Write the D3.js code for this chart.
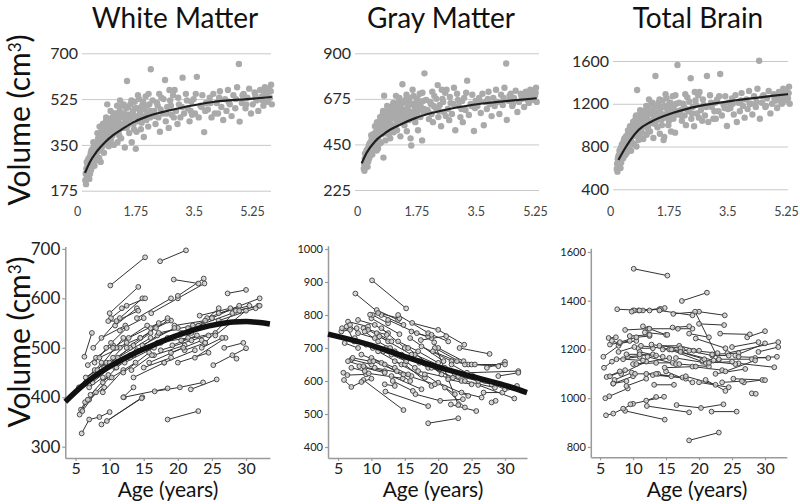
<!DOCTYPE html>
<html><head><meta charset="utf-8">
<script src="https://cdn.jsdelivr.net/npm/d3@7"></script>
<style>
body{margin:0;background:#fff}
svg{display:block}
text{font-family:Lato,'Noto Sans',sans-serif}
</style></head>
<body><svg id="chart" width="800" height="504"></svg>
<script>
// ---------- DATA ----------
const panelTitles = ["White Matter", "Gray Matter", "Total Brain"];

// cross-sectional (top row): age in years
const scanAge = [
0.20,0.21,0.22,0.23,0.25,0.26,0.27,0.28,0.30,0.31,0.32,0.34,0.35,0.36,0.38,0.40,0.41,0.43,0.44,0.46,0.47,0.48,0.50,0.50,0.45,0.33,
0.52,0.54,0.55,0.57,0.58,0.60,0.61,0.63,0.64,0.66,0.67,0.69,0.70,0.72,0.73,0.75,0.76,0.78,0.79,0.80,0.82,0.84,0.85,0.87,0.88,0.90,0.91,0.93,0.94,0.96,0.97,0.98,1.00,0.62,0.71,
1.02,1.04,1.06,1.08,1.10,1.12,1.14,1.16,1.18,1.20,1.22,1.24,1.26,1.28,1.30,1.32,1.34,1.36,1.38,1.40,1.43,1.45,1.47,1.50,1.52,1.55,1.57,1.60,1.62,1.65,1.67,1.70,1.72,1.75,1.77,1.80,1.82,1.85,1.87,1.90,1.92,1.95,1.97,1.99,1.15,1.58,
2.08,2.12,2.16,2.20,2.24,2.28,2.32,2.38,2.40,2.44,2.48,2.52,2.56,2.60,2.64,2.68,2.72,2.76,2.80,2.86,2.90,2.95,3.00,3.05,3.10,3.16,3.20,3.25,3.30,3.35,3.40,3.45,3.48,3.50,2.50,3.12,2.22,
3.55,3.60,3.65,3.70,3.74,3.79,3.83,3.88,3.92,3.97,4.02,4.06,4.10,4.15,4.20,4.25,4.30,4.35,4.40,4.42,4.48,4.53,4.58,4.63,4.68,4.73,4.78,4.83,4.88,4.93,4.98,5.03,5.07,5.11,5.15,5.19,5.22,5.25,5.28,5.30,5.10,4.95,5.20,4.50,5.27,
0.24,0.29,0.37,0.39,0.42,0.49,0.53,0.56,0.59,0.65,0.68,0.74,0.77,0.81,0.86,0.89,0.92,0.95,0.99,1.03,1.07,1.11,1.13,1.17,1.21,1.25,1.29,1.33,1.37,1.41,1.46,1.49,1.53,
1.56,1.61,1.64,1.69,1.74,1.78,1.83,1.88,1.93,1.98,2.04,2.10,2.18,2.26,2.34,2.42,2.54,2.62,2.74,2.84,2.98,3.08,3.22,3.38,3.62,3.86,4.12,4.32,4.60,4.85,5.05,5.17
];
const whiteVol = [
215,240,200,260,230,275,250,295,265,220,305,280,320,255,300,335,285,315,345,300,330,355,310,340,270,240,
360,325,375,345,300,390,355,330,400,370,345,410,380,420,355,395,440,370,410,505,385,345,425,395,450,370,415,440,385,460,405,350,430,285,320,
395,470,420,360,445,405,480,430,375,455,500,415,470,340,440,490,594,425,465,395,505,450,360,480,430,515,460,400,490,440,525,470,410,500,455,380,485,535,445,470,420,505,455,639,520,335,
480,430,510,455,400,530,470,598,440,495,415,520,465,540,560,480,430,505,455,607,470,545,490,440,515,525,470,610,455,500,540,399,480,510,560,465,545,
485,530,455,545,470,510,470,555,495,445,525,480,560,505,460,540,490,570,659,439,510,545,490,530,565,470,505,550,520,480,560,535,500,570,545,515,560,530,580,505,550,525,565,540,555,
285,230,330,270,360,290,395,350,420,385,430,405,455,420,365,480,400,430,470,440,500,455,385,470,425,505,455,415,495,440,520,470,410,
490,455,540,480,435,515,460,500,545,480,520,460,500,485,525,470,500,455,530,495,520,480,545,495,510,530,515,525,505,540,520,545
];
const grayVol = [
330,355,320,380,345,400,370,420,390,340,430,410,445,380,440,460,420,470,480,430,465,500,455,490,400,365,
470,440,510,490,420,530,500,470,545,510,455,560,525,580,500,540,600,385,565,691,530,470,580,550,610,520,570,595,500,625,555,480,585,430,460,
545,620,580,510,600,530,640,570,520,610,660,560,625,490,590,650,747,575,620,545,670,600,515,640,580,680,605,445,650,590,690,615,560,660,600,520,640,700,585,630,470,665,605,801,690,480,
620,575,660,600,560,690,630,743,585,645,540,675,610,705,720,625,570,655,600,730,520,700,640,585,665,680,620,765,595,650,695,516,630,665,720,560,710,
640,680,605,700,545,660,625,710,650,590,680,640,720,660,600,695,645,730,850,571,665,700,640,680,715,610,660,700,675,635,710,690,655,720,700,670,710,690,730,660,700,680,715,690,705,
405,350,455,395,495,430,540,480,560,530,585,520,615,560,505,640,545,600,635,600,655,620,540,645,590,680,615,575,660,615,695,625,570,
655,610,720,640,585,675,620,655,705,625,670,610,650,640,675,615,660,590,685,650,670,625,705,640,665,675,660,680,650,690,665,695
];
const totalVol = [
590,640,565,680,620,720,660,760,700,600,790,740,820,690,800,850,760,840,880,790,850,900,810,870,720,650,
880,820,930,880,770,960,900,850,990,920,830,1010,950,1040,900,980,1080,800,1020,1329,960,860,1050,990,1100,930,1030,1080,930,1120,1000,870,1060,760,820,
990,1140,1040,910,1090,980,1160,1040,940,1110,1200,1020,1130,880,1070,1180,1460,1040,1120,980,1210,1090,920,1160,1050,1230,1100,890,1180,1070,1250,1120,1000,1200,1090,940,1160,1270,1060,1130,930,1200,1100,1563,1240,860,
1140,1040,1200,1090,1000,1260,1130,1438,1060,1170,990,1230,1110,1280,1310,1140,1040,1190,1090,1460,1030,1280,1170,1060,1210,1240,1130,1478,1090,1190,1270,992,1150,1210,1310,1060,1290,
1160,1250,1100,1280,1030,1210,1130,1300,1180,1070,1240,1150,1320,1200,1100,1270,1170,1340,1603,1060,1210,1280,1170,1250,1320,1110,1200,1290,1230,1160,1310,1260,1200,1340,1290,1230,1310,1250,1360,1200,1290,1240,1320,1270,1300,
700,600,800,690,870,740,950,850,990,930,1030,940,1090,1000,890,1140,960,1050,1120,1060,1180,1100,950,1130,1040,1210,1090,1010,1180,1080,1240,1110,1000,
1170,1080,1290,1150,1040,1210,1100,1180,1280,1130,1210,1090,1170,1150,1220,1110,1190,1070,1240,1170,1210,1130,1270,1160,1200,1230,1200,1220,1180,1250,1210,1260
];
// fitted growth curves (top row)
const whiteFitAge = [0.19,0.33,0.51,0.74,0.97,1.24,1.51,1.88,2.3,2.79,3.69,4.62,5.3];
const whiteFitVol = [243,286,324,360,388,413,436,458,475,491,514,525,533];
const grayFitAge  = [0.14,0.29,0.53,0.78,1.0,1.3,1.72,2.2,2.72,3.7,4.7,5.3];
const grayFitVol  = [357,410,465,500,525,550,580,605,625,652,669,678];
const totalFitAge = [0.25,0.4,0.6,0.84,1.2,1.82,2.3,2.8,3.78,4.77,5.25];
const totalFitVol = [674,760,860,955,1030,1111,1155,1189,1235,1273,1290];

const topXTicks = [0, 1.75, 3.5, 5.25];
const whiteTopTicks = [175, 350, 525, 700];
const grayTopTicks = [225, 450, 675, 900];
const totalTopTicks = [400, 800, 1200, 1600];

// longitudinal (bottom row): one entry per subject
const subjAge = [
[10.1,15.2],[18.5,23.0],[17.4,21.2],[10.0,14.2],[7.6,11.5,14.8],[10.2,12.5],[10.8,14.0],[16.1,20.0,23.9],[19.4,23.0],[20.0,23.8],
[27.3,30.0],[24.3,32.0],[28.5,31.8],[26.0,31.4],[26.8,29.6],[28.0,28.6],[23.2,27.7],[25.2,30.0],[8.8,14.8],[21.9,25.7],
[16.6,20.3,23.7],[12.1,18.5],[5.9,7.0,8.5,10.0],[5.8,6.4,9.2],[9.6,14.7],
[5.5,7.8],[6.3,7.4],[6.5,9.5],[6.8,8.0,10.5],[7.0,10.0],[7.2,9.8],[7.5,11.0],[8.0,10.5,12.5],[8.2,12.0],[8.5,11.5],
[8.8,12.3],[9.0,12.0],[9.2,13.0],[9.5,12.5],[10.0,13.5,16.0],[10.3,13.8],[9.8,11.0,14.2],[10.8,13.0],[11.0,14.5],[11.5,15.0],
[12.0,15.8],[12.2,16.5],[12.5,16.8,19.0],[13.0,17.5],[13.5,18.0],[14.0,17.0,20.0],[14.5,18.5],[15.0,19.0],[15.5,20.5],[16.0,18.5],
[16.5,21.0],[17.0,21.5],[17.5,22.0,24.5],[18.0,22.5],[18.5,21.5],[19.0,23.5],[19.5,24.0],[20.0,24.5],[20.5,25.5],[21.0,24.0],
[22.0,26.0],[22.5,27.0],[23.0,28.0],[24.0,28.5],[25.0,29.0],[25.5,30.0],[26.0,30.5],[29.0,32.0],[6.0,8.0],[5.6,6.8],
[12.0,13.5],[14.0,19.0],
[6.5,8.8],[7.8,10.2],[9.0,11.0,13.5],[10.5,15.5],[11.2,16.0],[12.8,17.2],[13.2,16.2],[14.8,19.5],[15.8,20.8],[17.2,22.2],
[19.2,22.8],[21.5,25.0],[23.5,26.5],[11.8,15.2],[7.0,9.0]
];
const subjWhite = [
[626,683],[355,372],[675,697],[570,623],[500,560,600],[560,585],[545,580],[570,600,630],[638,630],[605,640],
[610,617],[560,600],[575,585],[555,580],[500,510],[485,478],[565,580],[465,499],[345,400],[416,436],
[412,420,430],[400,418],[327,355,360,370],[375,390,420],[352,398],
[420,455],[482,530],[440,470],[465,480,505],[395,440],[405,445],[430,470],[445,480,510],[455,520],[480,500],
[520,545],[410,455],[460,500],[500,540],[470,505,530],[440,470],[554,554,575],[460,485],[500,520],[535,560],
[450,490],[470,500],[500,540,555],[480,510],[440,470],[495,525,540],[520,555],[460,480],[500,530],[540,560],
[485,505],[510,520],[495,515,525],[470,495],[520,530],[490,515],[545,555],[470,490],[515,530],[495,510],
[530,580],[480,520],[545,570],[510,575],[560,585],[525,575],[570,585],[575,585],[372,410],[365,395],
[400,420],[560,600],
[430,470],[470,510],[430,460,485],[500,545],[480,520],[520,550],[455,485],[505,540],[470,500],[530,545],
[505,525],[540,560],[500,520],[580,600],[420,440]
];
const subjGray = [
[905,820],[472,487],[724,736],[790,742],[865,800,770],[800,775],[815,785],[776,755,710],[717,527],[700,660],
[640,658],[625,630],[590,585],[588,547],[565,565],[535,540],[700,682],[615,575],[603,512],[529,509],
[560,540,545],[568,524],[603,582,597,607],[625,618,620],[623,608],
[750,760],[765,720],[780,765],[770,745,730],[665,650],[670,660],[730,700],[785,770,745],[645,630],[680,655],
[760,740],[640,625],[710,680],[755,720],[670,640,615],[660,630],[801,806,790],[745,720],[690,650],[760,700],
[650,600],[700,640],[785,745,730],[615,575],[660,610],[720,690,655],[680,640],[650,585],[700,620],[750,735],
[680,640],[630,610],[705,660,650],[620,560],[745,720],[640,600],[700,650],[595,555],[640,610],[580,520],
[650,605],[620,600],[615,590],[600,580],[650,645],[650,650],[600,580],[615,625],[715,700],[760,755],
[590,585],[800,740],
[660,645],[720,700],[750,720,690],[640,620],[735,680],[700,655],[600,570],[620,590],[730,660],[660,610],
[690,660],[605,590],[565,550],[690,660],[640,630]
];
const subjTotal = [
[1531,1503],[827,859],[1399,1433],[1360,1365],[1365,1360,1370],[1360,1360],[1360,1365],[1346,1355,1340],[1355,1157],[1305,1300],
[1250,1275],[1185,1230],[1165,1170],[1143,1127],[1065,1075],[1020,1018],[1265,1262],[1080,1074],[948,912],[945,945],
[972,960,975],[968,942],[930,937,957,977],[1000,1008,1040],[975,1006],
[1170,1215],[1247,1250],[1220,1235],[1235,1225,1235],[1060,1090],[1075,1105],[1160,1170],[1230,1250,1255],[1100,1150],[1160,1155],
[1280,1285],[1050,1080],[1170,1180],[1255,1260],[1140,1145,1145],[1100,1100],[1355,1360,1365],[1205,1205],[1190,1170],[1295,1260],
[1100,1090],[1170,1140],[1285,1285,1285],[1095,1085],[1100,1080],[1215,1215,1195],[1200,1195],[1110,1065],[1200,1150],[1290,1295],
[1165,1145],[1140,1130],[1200,1175,1175],[1090,1055],[1265,1250],[1130,1115],[1245,1205],[1065,1045],[1155,1140],[1075,1030],
[1180,1185],[1100,1120],[1160,1160],[1110,1155],[1210,1230],[1175,1225],[1170,1165],[1190,1210],[1087,1110],[1125,1150],
[990,1005],[1360,1340],
[1090,1115],[1190,1210],[1180,1180,1175],[1140,1165],[1215,1200],[1220,1205],[1055,1055],[1125,1130],[1200,1160],[1190,1155],
[1195,1185],[1145,1150],[1065,1070],[1270,1260],[1060,1070]
];
// group trajectories (bottom row)
const whiteTrendAge = [3.5,6,8.6,11,13.5,16,18.4,21,23.3,26,28.1,30,32,33.5];
const whiteTrendVol = [391,423,450,470,488,503,517,530,540,548,552,553,551,548];
const grayTrendAge  = [3.5,10,15,20,25,30,33.3];
const grayTrendVol  = [742,708,674,642,614,587,565];

const ageTicks = [5, 10, 15, 20, 25, 30];
const whiteLongTicks = [300, 400, 500, 600, 700];
const grayLongTicks = [400, 500, 600, 700, 800, 900, 1000];
const totalLongTicks = [800, 1000, 1200, 1400, 1600];

// ---------- DRAWING ----------
const svg = d3.select("#chart");
const fmt = d3.format("d");

const titleX = [175, 441, 698];
panelTitles.forEach((t, i) => {
  svg.append("text").attr("x", titleX[i]).attr("y", 28)
    .attr("text-anchor", "middle").attr("font-size", 28).attr("fill", "#111").text(t);
});

function volLabel(cy) {
  const t = svg.append("text")
    .attr("transform", `translate(30,${cy}) rotate(-90)`)
    .attr("text-anchor", "middle").attr("font-size", 30).attr("fill", "#111");
  t.append("tspan").text("Volume (cm");
  t.append("tspan").attr("font-size", 17).attr("dy", -9).text("3");
  t.append("tspan").attr("dy", 9).text(")");
}
volLabel(120);
volLabel(342);

// top row
const topPanels = [
  {vals: whiteVol, fa: whiteFitAge, fv: whiteFitVol, ticks: whiteTopTicks, yR: [190.7, 53.3], xD: [78, 270], xA: [77, 252], grid: [82, 271]},
  {vals: grayVol,  fa: grayFitAge,  fv: grayFitVol,  ticks: grayTopTicks,  yR: [190, 53.3],   xD: [357, 535], xA: [357, 535], grid: [355, 539]},
  {vals: totalVol, fa: totalFitAge, fv: totalFitVol, ticks: totalTopTicks, yR: [189.3, 61],   xD: [610, 788], xA: [610, 786], grid: [613, 788]}
];

topPanels.forEach(p => {
  const y = d3.scaleLinear().domain(d3.extent(p.ticks)).range(p.yR);
  const x = d3.scaleLinear().domain([0, 5.25]).range(p.xD);
  const xa = d3.scaleLinear().domain([0, 5.25]).range(p.xA);
  const g = svg.append("g");

  const ya = g.append("g").attr("transform", `translate(${p.grid[0]},0)`)
    .call(d3.axisLeft(y).tickValues(p.ticks).tickFormat(fmt).tickSize(-(p.grid[1] - p.grid[0])).tickPadding(4));
  ya.select(".domain").remove();
  ya.selectAll("line").attr("stroke", "#c8c8c8").attr("stroke-width", 1);
  ya.selectAll("text").attr("font-size", 16).attr("fill", "#2a2a2a").attr("font-family", "Lato,sans-serif");

  const xg = g.append("g").attr("transform", "translate(0,204)")
    .call(d3.axisBottom(xa).tickValues(topXTicks).tickSize(0).tickPadding(3).tickFormat(d => String(d)));
  xg.select(".domain").remove();
  xg.selectAll("text").attr("font-size", 12.5).attr("fill", "#444").attr("font-family", "Lato,sans-serif");

  g.append("g").selectAll("circle").data(scanAge).join("circle")
    .attr("cx", d => x(d)).attr("cy", (d, i) => y(p.vals[i]))
    .attr("r", 3.2).attr("fill", "#aaaaaa");

  const line = d3.line().x(d => x(d[0])).y(d => y(d[1])).curve(d3.curveMonotoneX);
  g.append("path").datum(p.fa.map((a, i) => [a, p.fv[i]]))
    .attr("d", line).attr("fill", "none").attr("stroke", "#1e1e1e").attr("stroke-width", 2.2);
});

// bottom row
const botPanels = [
  {vals: subjWhite, ticks: whiteLongTicks, xDom: [3.5, 33.5], xR: [65.3, 269.9], yDom: [277, 705], yR: [458.1, 246.4],
   trendA: whiteTrendAge, trendV: whiteTrendVol, yFont: 17, yFam: "Lato,sans-serif", ageX: 168},
  {vals: subjGray, ticks: grayLongTicks, xDom: [3.5, 33.3], xR: [328, 527], yDom: [367, 1010], yR: [457.9, 245.7],
   trendA: grayTrendAge, trendV: grayTrendVol, yFont: 11, yFam: "'Liberation Sans',Arial,sans-serif", ageX: 433},
  {vals: subjTotal, ticks: totalLongTicks, xDom: [3.6, 33.3], xR: [590.8, 786.8], yDom: [758, 1615], yR: [457.2, 248.3],
   trendA: null, trendV: null, yFont: 11, yFam: "'Liberation Sans',Arial,sans-serif", ageX: 697}
];

botPanels.forEach(p => {
  const x = d3.scaleLinear().domain(p.xDom).range(p.xR);
  const y = d3.scaleLinear().domain(p.yDom).range(p.yR);
  const g = svg.append("g");

  const ya = g.append("g").attr("transform", `translate(${p.xR[0]},0)`)
    .call(d3.axisLeft(y).tickValues(p.ticks).tickFormat(fmt).tickSizeOuter(0).tickSizeInner(3).tickPadding(2));
  const xg = g.append("g").attr("transform", `translate(0,${p.yR[0]})`)
    .call(d3.axisBottom(x).tickValues(ageTicks).tickSizeOuter(0).tickSizeInner(3).tickPadding(2));
  [ya, xg].forEach(a => {
    a.select(".domain").attr("stroke", "#9a9a9a").attr("stroke-width", 1.5);
    a.selectAll(".tick line").attr("stroke", "#9a9a9a").attr("stroke-width", 1.2);
  });
  ya.selectAll("text").attr("font-size", p.yFont).attr("fill", "#222").attr("font-family", p.yFam);
  xg.selectAll("text").attr("font-size", 16).attr("fill", "#222").attr("font-family", "Lato,sans-serif");

  const line = d3.line().x(d => x(d[0])).y(d => y(d[1]));
  const subjects = subjAge.map((ages, s) => ages.map((a, k) => [a, p.vals[s][k]]));
  g.append("g").selectAll("path").data(subjects).join("path")
    .attr("d", line).attr("fill", "none").attr("stroke", "#333").attr("stroke-width", 1);
  g.append("g").selectAll("circle").data(subjects.flat()).join("circle")
    .attr("cx", d => x(d[0])).attr("cy", d => y(d[1])).attr("r", 2.4)
    .attr("fill", "#d4d4d4").attr("fill-opacity", 0.8).attr("stroke", "#4a4a4a").attr("stroke-width", 1);

  if (p.trendA) {
    const tl = d3.line().x(d => x(d[0])).y(d => y(d[1])).curve(d3.curveMonotoneX);
    g.append("path").datum(p.trendA.map((a, i) => [a, p.trendV[i]]))
      .attr("d", tl).attr("fill", "none").attr("stroke", "#111").attr("stroke-width", 5.5);
  }

  svg.append("text").attr("x", p.ageX).attr("y", 497).attr("text-anchor", "middle")
    .attr("font-size", 21).attr("fill", "#111").text("Age (years)");
});
</script>
</body></html>
